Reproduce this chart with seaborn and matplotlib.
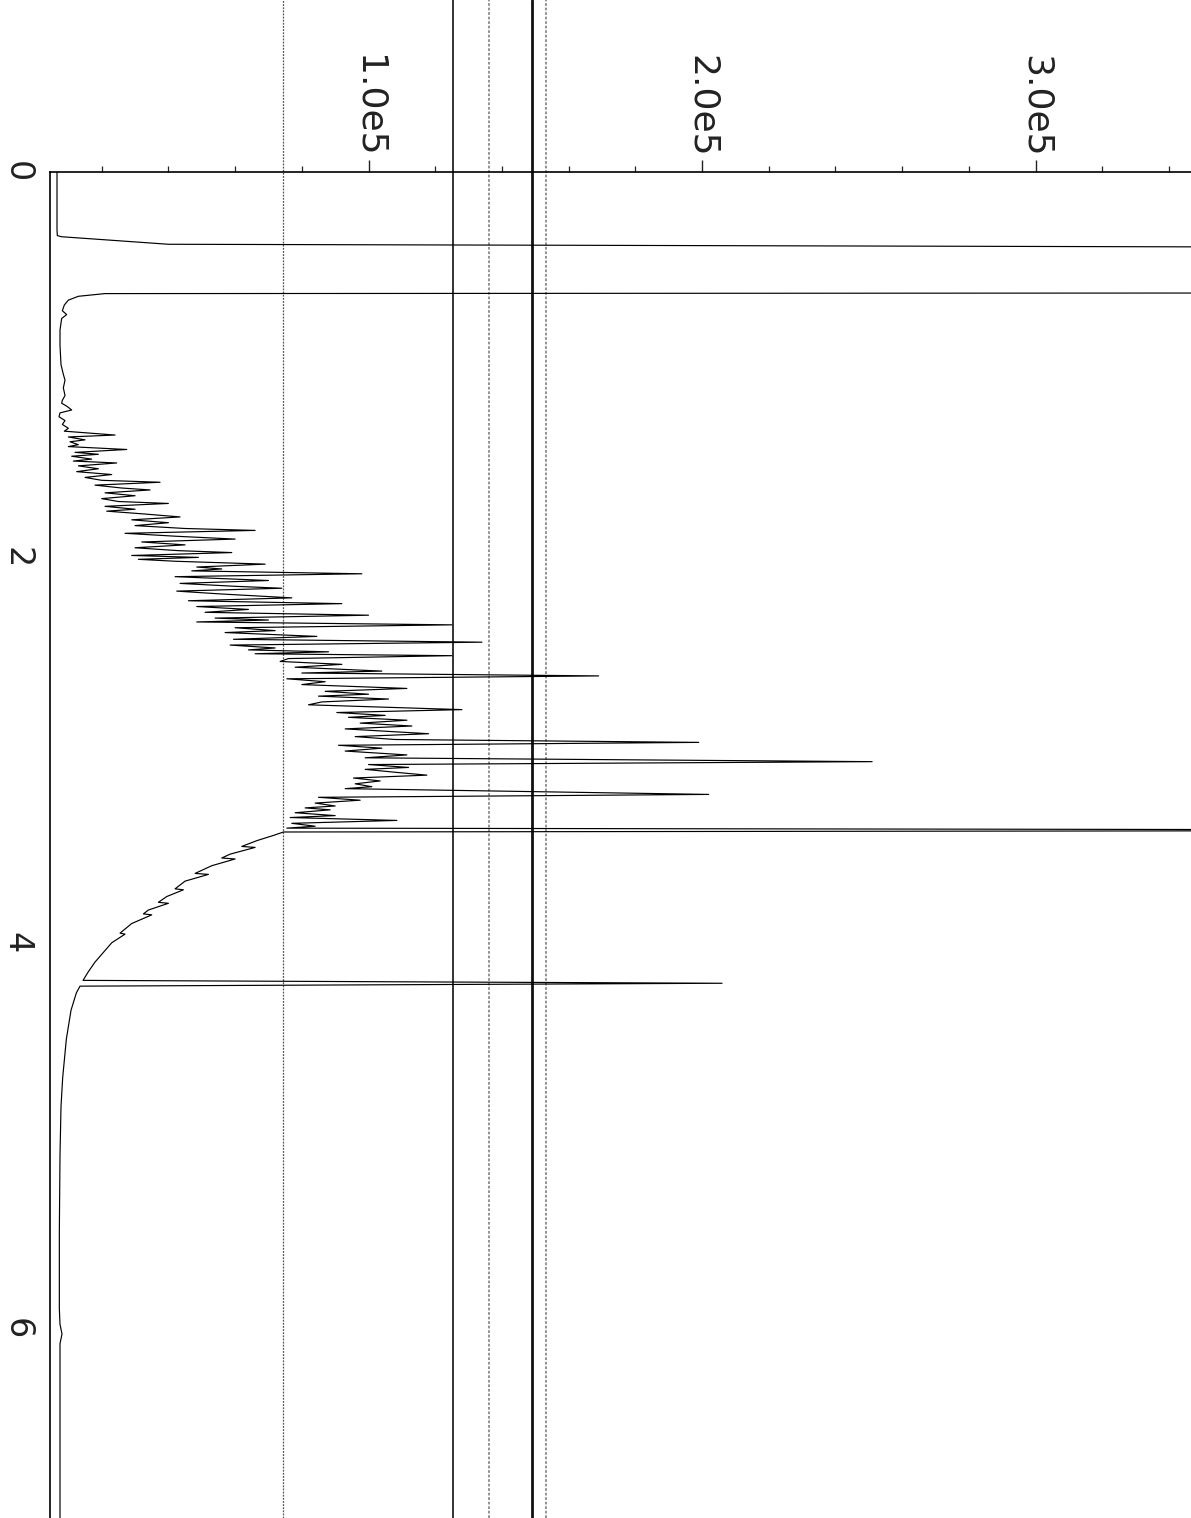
import numpy as np
import pandas as pd
import matplotlib
matplotlib.use("Agg")
import matplotlib.pyplot as plt
from matplotlib.ticker import MultipleLocator, FixedLocator
import seaborn as sns

# ---------------- data (time in min, signal in units of 1e5 counts) ----------------
t_front = [0.000, 0.100, 0.200, 0.300, 0.330, 0.336, 0.375, 0.389, 0.400, 0.620,
           0.628, 0.631, 0.645, 0.665, 0.690, 0.720, 0.740, 0.760, 0.820, 0.900,
           1.000, 1.050, 1.080, 1.120, 1.160, 1.185]
v_front = [0.066, 0.066, 0.066, 0.066, 0.067, 0.080, 0.400, 3.600, 20.00, 20.00,
           3.600, 0.210, 0.130, 0.100, 0.088, 0.082, 0.095, 0.080, 0.075, 0.075,
           0.078, 0.085, 0.090, 0.085, 0.090, 0.082]

t_noise = [1.200, 1.215, 1.235, 1.250, 1.270, 1.290, 1.310, 1.330, 1.345, 1.365,
           1.375, 1.390, 1.400, 1.415, 1.425, 1.440, 1.455, 1.465, 1.475, 1.490,
           1.500, 1.510, 1.525, 1.540, 1.555, 1.570, 1.585, 1.600, 1.610, 1.625,
           1.640, 1.650, 1.665, 1.680, 1.695, 1.710, 1.720, 1.735, 1.750, 1.760,
           1.775, 1.790, 1.805, 1.820, 1.835, 1.850, 1.860, 1.875, 1.890, 1.905,
           1.920, 1.935, 1.950, 1.965, 1.975, 1.990, 2.000, 2.010, 2.020, 2.035,
           2.050, 2.060, 2.070, 2.085, 2.100, 2.110, 2.120, 2.135, 2.150, 2.160,
           2.175, 2.190, 2.210, 2.225, 2.240, 2.255, 2.270, 2.285, 2.300, 2.315,
           2.325, 2.335, 2.350, 2.365, 2.380, 2.390, 2.410, 2.425, 2.440, 2.455,
           2.470, 2.480, 2.490, 2.500, 2.510, 2.525, 2.540, 2.555, 2.570, 2.590,
           2.600, 2.615, 2.630, 2.645, 2.660, 2.680, 2.695, 2.710, 2.720, 2.735,
           2.750, 2.765, 2.790, 2.805, 2.820, 2.830, 2.845, 2.860, 2.875, 2.890,
           2.915, 2.930, 2.945, 2.960, 2.975, 2.990, 3.005, 3.025, 3.040, 3.060,
           3.075, 3.090, 3.100, 3.115, 3.130, 3.145, 3.160, 3.175, 3.190, 3.200,
           3.230, 3.245, 3.260, 3.275, 3.290, 3.300, 3.310, 3.325, 3.340, 3.350,
           3.365, 3.380, 3.395, 3.405, 3.416, 3.425]
v_noise = [0.080, 0.095, 0.110, 0.075, 0.072, 0.090, 0.082, 0.100, 0.088, 0.240,
           0.100, 0.150, 0.105, 0.130, 0.100, 0.275, 0.120, 0.190, 0.110, 0.170,
           0.115, 0.245, 0.130, 0.190, 0.125, 0.230, 0.150, 0.200, 0.375, 0.180,
           0.260, 0.345, 0.210, 0.300, 0.200, 0.250, 0.400, 0.210, 0.300, 0.215,
           0.330, 0.435, 0.290, 0.400, 0.300, 0.450, 0.660, 0.270, 0.420, 0.600,
           0.320, 0.450, 0.300, 0.430, 0.590, 0.290, 0.490, 0.310, 0.420, 0.690,
           0.485, 0.560, 0.470, 0.980, 0.420, 0.560, 0.700, 0.435, 0.600, 0.740,
           0.425, 0.560, 0.770, 0.460, 0.920, 0.485, 0.640, 0.510, 1.000, 0.540,
           0.700, 0.485, 1.250, 0.600, 0.720, 0.570, 0.845, 0.595, 1.340, 0.585,
           0.720, 0.640, 0.880, 0.660, 1.250, 0.760, 0.735, 0.920, 0.780, 1.040,
           0.800, 1.690, 0.755, 0.870, 0.800, 1.115, 0.870, 1.000, 0.850, 1.060,
           0.860, 0.820, 1.280, 0.905, 1.050, 0.940, 1.115, 0.975, 1.130, 0.930,
           1.180, 0.960, 1.080, 1.990, 0.910, 1.040, 0.930, 1.115, 0.990, 2.510,
           1.000, 1.120, 0.990, 1.080, 1.175, 0.955, 1.035, 0.960, 1.010, 0.930,
           2.020, 0.850, 0.975, 0.840, 0.900, 0.810, 0.885, 0.780, 0.900, 0.765,
           1.085, 0.770, 0.840, 0.755, 5.000, 0.745]

t_tail = [3.440, 3.470, 3.500, 3.505, 3.540, 3.560, 3.565, 3.600, 3.640, 3.645,
          3.680, 3.720, 3.725, 3.760, 3.790, 3.795, 3.830, 3.850, 3.855, 3.900,
          3.950, 3.955, 4.000, 4.050, 4.100, 4.150, 4.195, 4.210, 4.225, 4.260,
          4.350, 4.500, 4.700, 4.850, 5.100, 5.500, 5.900, 5.980, 6.030, 6.080,
          6.500, 7.000]
v_tail = [0.720, 0.665, 0.620, 0.660, 0.585, 0.560, 0.600, 0.530, 0.480, 0.520,
          0.450, 0.420, 0.445, 0.395, 0.370, 0.400, 0.340, 0.325, 0.350, 0.290,
          0.255, 0.270, 0.230, 0.205, 0.180, 0.160, 0.144, 2.060, 0.135, 0.124,
          0.108, 0.094, 0.083, 0.078, 0.075, 0.073, 0.073, 0.075, 0.081, 0.075,
          0.075, 0.075]

# marker lines (signal position, 1e5 units)
marker_x = [0.744, 1.2525, 1.362, 1.489, 1.532]
marker_color = ["#555555", "#222222", "#8a8a8a", "#111111", "#8a8a8a"]
marker_lw = [0.9, 1.3, 1.3, 2.0, 1.3]
marker_ls = [(0, (1.5, 1.0)), "-", (0, (1.5, 1.0)), "-", (0, (1.5, 1.0))]

x_tick_pos = [1.0, 2.0, 3.0]
x_tick_labels = ["1.0e5", "2.0e5", "3.0e5"]
y_tick_pos = [0, 2, 4, 6]
y_tick_labels = ["0", "2", "4", "6"]

# ---------------- build frame ----------------
df = pd.DataFrame({
    "time": t_front + t_noise + t_tail,
    "signal": np.array(v_front + v_noise + v_tail) * 1e5,
})

sns.set_style("white")
plt.rcParams["font.family"] = ["DejaVu Sans"]

W, H = 1191, 1518
fig = plt.figure(figsize=(W / 100, H / 100), dpi=100)
left_px, top_px = 50, 172
ax = fig.add_axes([left_px / W, 0, 1 - left_px / W, 1 - top_px / H])

sns.lineplot(data=df, x="signal", y="time", sort=False, estimator=None,
             orient="y", color="black", linewidth=0.85, ax=ax)

ax.set_xlim(0.045e5, 3.466e5)
ax.set_ylim(6.985, 0)

axes_h_px = H - top_px
for xv, c, lw, ls in zip(marker_x, marker_color, marker_lw, marker_ls):
    ax.axvline(xv * 1e5, ymin=0, ymax=1 + top_px / axes_h_px, color=c,
               lw=lw, ls=ls, clip_on=False, zorder=1)

# axes styling
for s in ["right", "bottom"]:
    ax.spines[s].set_visible(False)
for s in ["left", "top"]:
    ax.spines[s].set_color("black")
    ax.spines[s].set_linewidth(1.2)

ax.xaxis.tick_top()
ax.xaxis.set_major_locator(FixedLocator([p * 1e5 for p in x_tick_pos]))
ax.set_xticklabels(x_tick_labels)
ax.xaxis.set_minor_locator(MultipleLocator(0.2e5))
ax.yaxis.set_major_locator(FixedLocator(y_tick_pos))
ax.set_yticklabels(y_tick_labels)
ax.yaxis.set_minor_locator(MultipleLocator(0.5))

ax.tick_params(axis="x", which="major", direction="out", length=9, width=1.0,
               pad=1, labelsize=26, labelrotation=-90, colors="#222222",
               top=True, bottom=False, labeltop=True, labelbottom=False)
ax.tick_params(axis="x", which="minor", direction="out", length=4, width=0.9,
               top=True, bottom=False, colors="#222222")
ax.tick_params(axis="y", which="major", direction="out", length=9, width=1.0,
               pad=3, labelsize=24, labelrotation=-90, colors="#222222")
ax.tick_params(axis="y", which="minor", direction="out", length=4, width=0.9,
               colors="#222222")
for lab in ax.get_xticklabels():
    lab.set_horizontalalignment("center")
    lab.set_verticalalignment("bottom")
for lab in ax.get_yticklabels():
    lab.set_verticalalignment("center")

ax.set_xlabel("")
ax.set_ylabel("")
ax.grid(False)

fig.savefig("out.png", dpi=100)
